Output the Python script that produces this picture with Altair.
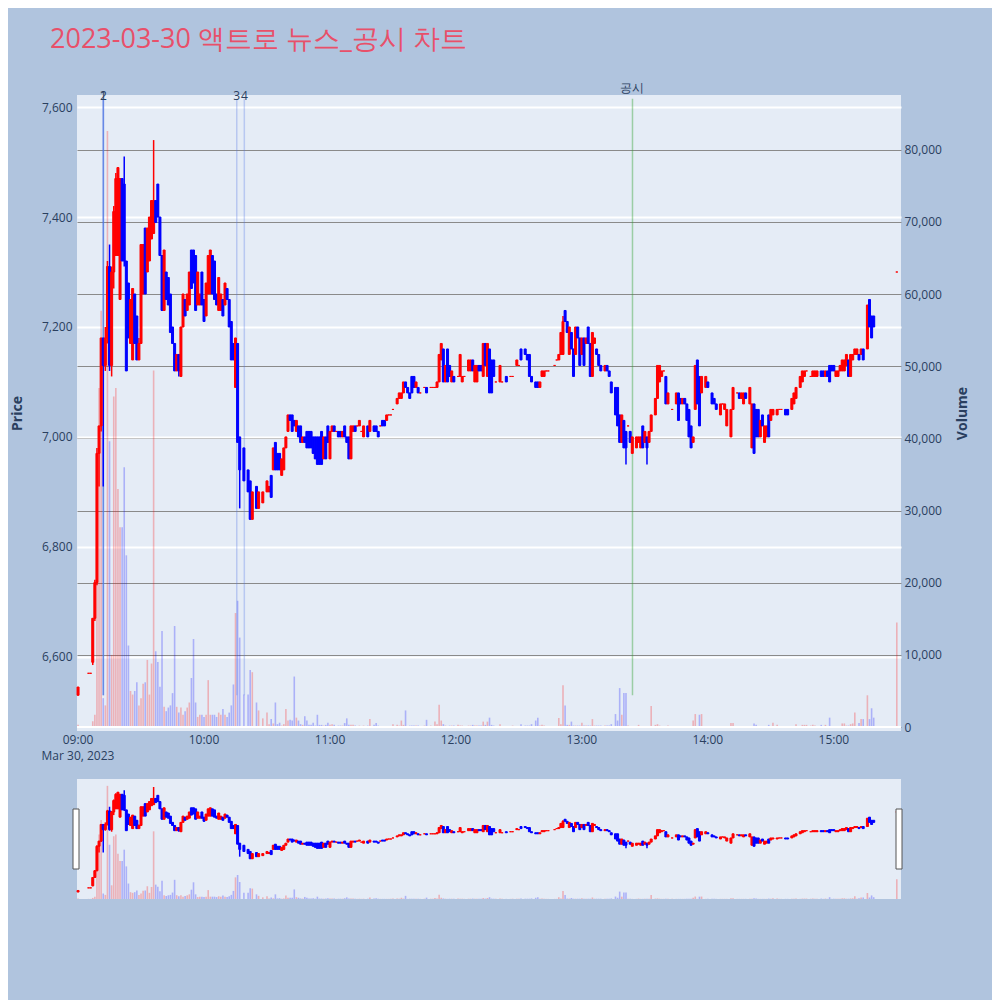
import altair as alt
import pandas as pd

TITLE = "2023-03-30 액트로 뉴스_공시 차트"
DATE_LABEL = "Mar 30, 2023"

# (minute from 09:00, open, high, low, close, volume)
H09 = [
    (0, 6530, 6545, 6530, 6545, 300), (5, 6570, 6570, 6570, 6570, 100), (6, 6570, 6570, 6570, 6570, 100),
    (7, 6590, 6670, 6585, 6670, 800), (8, 6670, 6740, 6665, 6735, 1700), (9, 6735, 6980, 6730, 6970, 22600),
    (10, 6970, 7020, 6910, 7020, 47000), (11, 7020, 7180, 7010, 7180, 57700), (12, 7180, 7180, 6910, 7130, 4000),
    (13, 7130, 7200, 7120, 7180, 3000), (14, 7180, 7320, 7170, 7310, 82600), (15, 7310, 7350, 7120, 7130, 39600),
    (16, 7130, 7310, 7110, 7300, 10000), (17, 7300, 7420, 7270, 7410, 45800), (18, 7330, 7480, 7330, 7470, 47000),
    (19, 7330, 7490, 7330, 7490, 33000), (20, 7250, 7470, 7250, 7470, 27700), (21, 7470, 7470, 7320, 7320, 27700),
    (22, 7460, 7510, 7310, 7320, 36000), (23, 7320, 7320, 7120, 7120, 23800), (24, 7280, 7280, 7180, 7180, 11300),
    (25, 7170, 7250, 7170, 7250, 5000), (26, 7140, 7270, 7140, 7270, 4500), (27, 7260, 7260, 7170, 7170, 5000),
    (28, 7220, 7220, 7140, 7140, 6200), (29, 7140, 7180, 7140, 7170, 3000), (30, 7170, 7350, 7170, 7350, 4000),
    (31, 7260, 7350, 7260, 7350, 6000), (32, 7380, 7380, 7260, 7260, 6200), (33, 7300, 7380, 7300, 7380, 9300),
    (34, 7320, 7400, 7320, 7400, 4500), (35, 7360, 7430, 7360, 7430, 8800), (36, 7370, 7540, 7370, 7430, 49400),
    (37, 7430, 7430, 7390, 7390, 10500), (38, 7460, 7460, 7400, 7400, 9000), (39, 7400, 7400, 7330, 7330, 5600),
    (40, 7330, 7330, 7230, 7230, 13300), (41, 7230, 7340, 7230, 7340, 2800), (42, 7300, 7300, 7250, 7250, 2200),
    (43, 7290, 7290, 7240, 7240, 2700), (44, 7260, 7260, 7190, 7190, 3000), (45, 7200, 7200, 7170, 7170, 4700),
    (46, 7170, 7170, 7120, 7120, 14000), (47, 7120, 7150, 7120, 7150, 2800), (48, 7150, 7150, 7110, 7120, 2000),
    (49, 7110, 7200, 7110, 7200, 2700), (50, 7200, 7260, 7200, 7260, 1700), (51, 7250, 7250, 7220, 7220, 2200),
    (52, 7230, 7260, 7230, 7260, 2700), (53, 7240, 7300, 7240, 7300, 3400), (54, 7340, 7340, 7270, 7270, 6800),
    (55, 7340, 7340, 7280, 7280, 12200), (56, 7330, 7330, 7230, 7230, 3400), (57, 7240, 7300, 7240, 7300, 1400),
    (58, 7240, 7260, 7240, 7260, 1700), (59, 7300, 7300, 7240, 7240, 1700),
]
H10 = [
    (60, 7250, 7250, 7210, 7210, 1400), (61, 7220, 7280, 7220, 7280, 1700), (62, 7260, 7330, 7260, 7330, 6500),
    (63, 7260, 7340, 7260, 7340, 1700), (64, 7330, 7330, 7260, 7260, 1700), (65, 7320, 7320, 7250, 7250, 1700),
    (66, 7260, 7260, 7240, 7240, 1400), (67, 7230, 7290, 7230, 7290, 2000), (68, 7230, 7260, 7230, 7260, 1700),
    (69, 7250, 7250, 7220, 7220, 2500), (70, 7240, 7280, 7240, 7280, 1700), (71, 7270, 7270, 7250, 7250, 1400),
    (72, 7250, 7250, 7200, 7200, 2000), (73, 7210, 7210, 7140, 7140, 3000), (74, 7170, 7170, 7140, 7140, 5900),
    (75, 7090, 7180, 7090, 7180, 15800), (76, 7170, 7170, 6990, 6990, 17500), (77, 7000, 7000, 6870, 6940, 12400),
    (79, 6980, 6980, 6920, 6920, 4500), (81, 6940, 6940, 6900, 6900, 4500), (82, 6920, 6920, 6850, 6850, 7900),
    (83, 6850, 6900, 6850, 6900, 7600), (85, 6910, 6910, 6870, 6870, 3400), (86, 6870, 6900, 6870, 6900, 2300),
    (88, 6880, 6900, 6880, 6900, 1200), (90, 6900, 6920, 6900, 6920, 2000), (91, 6900, 6910, 6900, 6910, 400),
    (92, 6930, 6930, 6890, 6890, 1100), (93, 6940, 6980, 6940, 6980, 500), (94, 6990, 6990, 6940, 6940, 3400),
    (95, 6970, 6970, 6940, 6940, 400), (96, 6970, 6970, 6940, 6940, 600), (97, 6930, 6960, 6930, 6960, 200),
    (98, 6940, 6980, 6940, 6980, 400), (99, 6980, 7000, 6980, 7000, 2500), (100, 7010, 7040, 7010, 7040, 900),
    (101, 7040, 7040, 7030, 7030, 1000), (102, 7040, 7040, 7010, 7010, 900), (103, 7030, 7030, 7020, 7020, 7000),
    (104, 7010, 7030, 7010, 7030, 1300), (105, 7020, 7020, 7000, 7000, 900), (106, 7020, 7020, 6990, 6990, 400),
    (107, 6990, 7000, 6990, 7000, 300), (108, 7000, 7000, 6990, 6990, 1500), (109, 7010, 7010, 6980, 6980, 900),
    (110, 7010, 7010, 6980, 6980, 300), (111, 7010, 7010, 6980, 6980, 300), (112, 7000, 7000, 6970, 6970, 600),
    (113, 7000, 7000, 6960, 6960, 200), (114, 7000, 7000, 6950, 6950, 1700), (115, 7000, 7000, 6950, 6950, 300),
    (116, 7010, 7010, 6950, 6950, 300), (117, 6960, 7000, 6960, 7000, 200), (118, 7000, 7000, 6960, 6960, 300),
    (119, 7020, 7020, 6990, 6990, 600),
]
H11 = [
    (120, 6960, 7010, 6960, 7010, 300), (121, 7010, 7020, 7010, 7020, 400), (122, 7020, 7020, 7010, 7010, 300),
    (123, 7010, 7010, 7010, 7010, 100), (124, 7010, 7010, 7000, 7000, 200), (125, 7010, 7010, 7000, 7000, 200),
    (126, 7000, 7010, 7000, 7010, 200), (127, 7020, 7020, 7000, 7000, 550), (128, 7000, 7000, 6990, 6990, 1200),
    (129, 7000, 7000, 6960, 6960, 300), (130, 6960, 7020, 6960, 7020, 300), (131, 7010, 7020, 7010, 7020, 300),
    (132, 7020, 7020, 7010, 7010, 200), (133, 7020, 7020, 7020, 7020, 100), (134, 7020, 7030, 7020, 7030, 200),
    (135, 7010, 7010, 7010, 7010, 100), (136, 7000, 7020, 7000, 7020, 200), (138, 7020, 7020, 7000, 7000, 200),
    (139, 7010, 7030, 7010, 7030, 1100), (141, 7020, 7020, 7010, 7010, 300), (142, 7020, 7020, 7010, 7010, 550),
    (143, 7010, 7010, 7000, 7000, 200), (144, 7020, 7020, 7020, 7020, 100), (145, 7030, 7030, 7020, 7020, 100),
    (146, 7030, 7030, 7020, 7020, 100), (147, 7030, 7040, 7030, 7040, 100), (148, 7040, 7040, 7040, 7040, 100),
    (149, 7040, 7040, 7040, 7040, 100), (150, 7050, 7050, 7050, 7050, 400), (152, 7060, 7070, 7060, 7070, 300),
    (153, 7070, 7080, 7070, 7080, 200), (154, 7070, 7080, 7070, 7080, 900), (155, 7080, 7100, 7080, 7100, 300),
    (156, 7100, 7100, 7090, 7090, 2300), (157, 7090, 7090, 7080, 7080, 100), (158, 7080, 7080, 7070, 7070, 200),
    (159, 7110, 7110, 7080, 7080, 200), (160, 7110, 7110, 7090, 7090, 200), (161, 7090, 7100, 7090, 7100, 200),
    (162, 7090, 7090, 7080, 7080, 200), (163, 7080, 7080, 7080, 7080, 100), (165, 7090, 7090, 7090, 7090, 200),
    (166, 7090, 7090, 7080, 7080, 1000), (168, 7090, 7090, 7090, 7090, 200), (169, 7090, 7090, 7090, 7090, 100),
    (170, 7090, 7090, 7090, 7090, 750), (171, 7090, 7100, 7090, 7100, 400), (172, 7100, 7150, 7100, 7150, 3100),
    (173, 7140, 7170, 7140, 7170, 900), (174, 7160, 7160, 7100, 7100, 400), (175, 7100, 7130, 7100, 7130, 200),
    (176, 7160, 7160, 7100, 7100, 100), (177, 7130, 7130, 7110, 7110, 200), (178, 7100, 7120, 7100, 7120, 200),
    (179, 7110, 7110, 7100, 7100, 200),
]
H12 = [
    (181, 7110, 7110, 7110, 7110, 300), (182, 7110, 7150, 7110, 7150, 200), (183, 7100, 7110, 7100, 7110, 200),
    (184, 7110, 7110, 7110, 7110, 100), (186, 7120, 7140, 7120, 7140, 200), (187, 7120, 7140, 7120, 7140, 200),
    (188, 7140, 7140, 7120, 7120, 300), (189, 7100, 7130, 7100, 7130, 200), (190, 7100, 7130, 7100, 7130, 200),
    (191, 7130, 7130, 7120, 7120, 200), (192, 7130, 7130, 7120, 7120, 200), (193, 7110, 7170, 7110, 7170, 750),
    (194, 7170, 7170, 7130, 7130, 300), (195, 7110, 7170, 7110, 7170, 750), (196, 7160, 7160, 7080, 7080, 1300),
    (197, 7140, 7140, 7080, 7080, 300), (198, 7140, 7140, 7110, 7110, 200), (199, 7100, 7100, 7100, 7100, 100),
    (201, 7100, 7130, 7100, 7130, 400), (202, 7100, 7100, 7100, 7100, 100), (204, 7110, 7110, 7100, 7100, 100),
    (206, 7110, 7110, 7110, 7110, 100), (207, 7110, 7110, 7110, 7110, 200), (209, 7130, 7140, 7130, 7140, 100),
    (210, 7130, 7130, 7130, 7130, 100), (211, 7160, 7160, 7140, 7140, 400), (213, 7160, 7160, 7150, 7150, 200),
    (214, 7150, 7150, 7140, 7140, 200), (215, 7150, 7150, 7110, 7110, 200), (216, 7110, 7110, 7100, 7100, 400),
    (218, 7100, 7100, 7090, 7090, 900), (219, 7100, 7100, 7090, 7090, 1300), (220, 7090, 7100, 7090, 7100, 200),
    (221, 7110, 7120, 7110, 7120, 300), (222, 7110, 7120, 7110, 7120, 200), (223, 7120, 7120, 7120, 7120, 100),
    (224, 7120, 7120, 7120, 7120, 100), (227, 7130, 7130, 7130, 7130, 100), (228, 7140, 7140, 7140, 7140, 100),
    (229, 7140, 7150, 7140, 7150, 1250), (230, 7150, 7190, 7150, 7190, 400), (231, 7150, 7220, 7150, 7210, 5800),
    (232, 7230, 7230, 7210, 7210, 3000), (233, 7210, 7210, 7190, 7190, 300), (234, 7150, 7200, 7150, 7200, 300),
    (235, 7190, 7190, 7160, 7160, 750), (236, 7160, 7160, 7110, 7110, 200), (237, 7150, 7200, 7150, 7200, 200),
    (238, 7200, 7200, 7180, 7180, 200), (239, 7180, 7180, 7130, 7130, 200),
]
H13 = [
    (240, 7150, 7180, 7150, 7180, 600), (241, 7180, 7180, 7130, 7130, 200), (242, 7170, 7180, 7170, 7180, 200),
    (243, 7200, 7200, 7170, 7170, 200), (244, 7170, 7170, 7110, 7110, 200), (245, 7110, 7190, 7110, 7190, 1100),
    (246, 7170, 7180, 7170, 7180, 200), (247, 7160, 7160, 7150, 7150, 200), (248, 7150, 7150, 7130, 7130, 200),
    (249, 7130, 7130, 7120, 7120, 200), (251, 7120, 7130, 7120, 7130, 200), (252, 7130, 7130, 7120, 7120, 200),
    (253, 7120, 7120, 7110, 7110, 200), (254, 7100, 7100, 7080, 7080, 400), (256, 7090, 7090, 7040, 7040, 1800),
    (257, 7090, 7090, 7020, 7020, 900), (258, 7040, 7040, 6990, 6990, 5400), (259, 6990, 7040, 6990, 7040, 1700),
    (260, 7030, 7030, 6980, 6980, 4700), (261, 7010, 7010, 6950, 6980, 4700), (262, 7020, 7020, 7020, 7020, 200),
    (263, 7010, 7010, 6990, 6990, 100), (264, 6970, 7000, 6970, 7000, 100), (266, 6980, 7000, 6980, 7000, 100),
    (267, 6990, 7000, 6990, 7000, 300), (268, 6980, 7000, 6980, 7000, 100), (269, 7020, 7020, 6980, 6980, 100),
    (270, 6990, 7010, 6990, 7010, 100), (271, 7000, 7000, 6950, 6980, 100), (272, 6990, 7010, 6990, 7010, 100),
    (273, 7010, 7040, 7010, 7040, 2900), (275, 7040, 7070, 7040, 7070, 300), (276, 7070, 7130, 7070, 7130, 400),
    (277, 7100, 7130, 7100, 7130, 200), (278, 7110, 7120, 7110, 7120, 100), (279, 7120, 7120, 7120, 7120, 100),
    (280, 7110, 7110, 7060, 7060, 100), (281, 7060, 7080, 7060, 7080, 200), (283, 7050, 7050, 7050, 7050, 100),
    (285, 7060, 7080, 7060, 7080, 100), (286, 7080, 7080, 7030, 7030, 100), (287, 7070, 7070, 7060, 7060, 100),
    (288, 7060, 7070, 7060, 7070, 100), (289, 7070, 7070, 7060, 7060, 100), (290, 7060, 7060, 7030, 7030, 100),
    (291, 7050, 7050, 7000, 7000, 100), (292, 7020, 7020, 6980, 6980, 100), (293, 6990, 7000, 6990, 7000, 900),
    (294, 7050, 7130, 7050, 7130, 1800), (295, 7140, 7140, 7060, 7060, 100), (296, 7110, 7110, 7020, 7020, 1700),
    (297, 7080, 7110, 7080, 7110, 1800), (299, 7090, 7110, 7090, 7110, 100),
]
H14 = [
    (300, 7100, 7100, 7090, 7090, 100), (302, 7080, 7080, 7060, 7060, 100), (303, 7070, 7070, 7060, 7060, 100),
    (304, 7060, 7060, 7050, 7050, 100), (306, 7040, 7060, 7040, 7060, 100), (307, 7060, 7060, 7060, 7060, 100),
    (308, 7050, 7060, 7050, 7060, 100), (309, 7020, 7050, 7020, 7050, 100), (311, 7000, 7050, 7000, 7050, 550),
    (312, 7050, 7090, 7050, 7090, 550), (314, 7080, 7080, 7080, 7080, 100), (315, 7080, 7080, 7070, 7070, 100),
    (316, 7070, 7080, 7070, 7080, 100), (317, 7060, 7080, 7060, 7080, 100), (318, 7080, 7080, 7070, 7070, 100),
    (320, 7060, 7090, 7060, 7090, 100), (321, 6980, 7060, 6980, 7060, 100), (322, 7060, 7060, 6970, 6970, 500),
    (323, 7050, 7050, 7000, 7000, 300), (324, 7050, 7050, 7000, 7000, 100), (325, 7000, 7030, 7000, 7030, 100),
    (326, 7040, 7040, 7020, 7020, 100), (327, 6990, 7020, 6990, 7020, 100), (328, 7000, 7020, 7000, 7020, 100),
    (329, 7040, 7040, 7000, 7000, 300), (330, 7030, 7050, 7030, 7050, 100), (331, 7040, 7050, 7040, 7050, 600),
    (333, 7040, 7050, 7040, 7050, 300), (334, 7050, 7050, 7050, 7050, 100), (335, 7050, 7050, 7050, 7050, 100),
    (337, 7050, 7050, 7040, 7040, 100), (338, 7050, 7050, 7040, 7040, 100), (340, 7050, 7070, 7050, 7070, 100),
    (341, 7060, 7080, 7060, 7080, 100), (342, 7070, 7090, 7070, 7090, 400), (344, 7090, 7110, 7090, 7110, 100),
    (345, 7100, 7120, 7100, 7120, 300), (346, 7110, 7120, 7110, 7120, 300), (347, 7120, 7120, 7120, 7120, 300),
    (349, 7110, 7110, 7110, 7110, 200), (350, 7110, 7120, 7110, 7120, 300), (351, 7110, 7120, 7110, 7120, 200),
    (352, 7110, 7120, 7110, 7120, 100), (354, 7120, 7120, 7110, 7110, 300), (355, 7120, 7120, 7110, 7110, 100),
    (356, 7110, 7120, 7110, 7120, 300), (357, 7120, 7120, 7110, 7110, 100), (358, 7130, 7130, 7100, 7100, 1300),
    (359, 7130, 7130, 7120, 7120, 100),
]
H15 = [
    (360, 7130, 7130, 7120, 7120, 100), (361, 7110, 7120, 7110, 7120, 100), (362, 7110, 7120, 7110, 7120, 100),
    (363, 7120, 7130, 7120, 7130, 100), (364, 7120, 7140, 7120, 7140, 500), (365, 7120, 7140, 7120, 7140, 500),
    (366, 7130, 7150, 7130, 7150, 200), (367, 7140, 7140, 7110, 7110, 200), (368, 7110, 7150, 7110, 7150, 400),
    (369, 7140, 7150, 7140, 7150, 500), (370, 7150, 7160, 7150, 7160, 2000), (371, 7150, 7160, 7150, 7160, 100),
    (372, 7150, 7150, 7140, 7140, 550), (373, 7150, 7160, 7150, 7160, 1100), (374, 7160, 7160, 7140, 7140, 1100),
    (376, 7160, 7240, 7160, 7240, 4400), (377, 7250, 7250, 7200, 7200, 1100), (378, 7220, 7220, 7180, 7180, 2600),
    (379, 7220, 7220, 7200, 7200, 1300), (390, 7300, 7300, 7300, 7300, 14500),
]

EVENT_MIN = [12.0, 12.1, 75.6, 79.2, 264.1]
EVENT_LABEL = ["1", "2", "3", "4", "공시"]
EVENT_KIND = ["news1", "news1", "news2", "news2", "disc"]

X_TICKS = [0, 60, 120, 180, 240, 300, 360]
X_LABELS = ["09:00", "10:00", "11:00", "12:00", "13:00", "14:00", "15:00"]
PRICE_TICKS = [6600, 6800, 7000, 7200, 7400, 7600]
VOL_TICKS = [0, 10000, 20000, 30000, 40000, 50000, 60000, 70000, 80000]

df = pd.DataFrame(H09 + H10 + H11 + H12 + H13 + H14 + H15, columns=["m", "o", "h", "l", "c", "v"])
df["dir"] = ["up" if c >= o else "down" for o, c in zip(df["o"], df["c"])]
ev = pd.DataFrame({"m": EVENT_MIN, "label": EVENT_LABEL, "kind": EVENT_KIND})
xt = pd.DataFrame({"m": X_TICKS, "label": X_LABELS})

W, H, HS = 824, 636, 120
PDOM = [6465, 7622]
VDOM = [-550, 87600]
xs = alt.Scale(domain=[-0.5, 392], nice=False, zero=False, padding=0)
cs = alt.Scale(domain=["up", "down"], range=["#ff0000", "#0000ff"])
TXT = "#2a3f5f"


def pscale():
    return alt.Scale(domain=PDOM, nice=False, zero=False, padding=0)


price_axis = alt.Axis(
    orient="left", values=PRICE_TICKS, format=",.0f", grid=True, gridColor="white", gridWidth=2,
    ticks=False, domain=False, labelPadding=5, title="Price", titlePadding=17,
)
vol_axis = alt.Axis(
    orient="right", values=VOL_TICKS, format=",.0f", grid=True, gridColor="#8a8a8a", gridWidth=1,
    ticks=False, domain=False, labelPadding=3, title="Volume", titleAngle=270, titlePadding=28,
)

base = alt.Chart(df)
X_NOAX = alt.X("m:Q", scale=xs, axis=None)

vol_bars = base.mark_bar(width=1.6, opacity=0.25).encode(
    x=X_NOAX,
    y=alt.Y("v:Q", scale=alt.Scale(domain=VDOM, nice=False, zero=False, padding=0), axis=vol_axis),
    y2=alt.datum(0),
    color=alt.Color("dir:N", scale=cs, legend=None),
)
zero_line = alt.Chart(pd.DataFrame({"z": [0]})).mark_rule(color="white", strokeWidth=2).encode(
    y=alt.Y("z:Q", scale=alt.Scale(domain=VDOM, nice=False, zero=False, padding=0), axis=None)
)


def event_rule(kind, color, opacity):
    return alt.Chart(ev[ev["kind"] == kind]).mark_rule(color=color, strokeWidth=1.5, opacity=opacity).encode(
        x=X_NOAX,
        y=alt.Y(datum=6530, scale=pscale(), axis=None),
        y2=alt.Y2(datum=7615),
    )


wick = base.mark_rule(strokeWidth=1.5).encode(
    x=X_NOAX,
    y=alt.Y("l:Q", scale=pscale(), axis=price_axis),
    y2="h:Q",
    color=alt.Color("dir:N", scale=cs, legend=None),
)
body = base.mark_bar(width=2, strokeWidth=1).encode(
    x=X_NOAX,
    y=alt.Y("o:Q", scale=pscale(), axis=None),
    y2="c:Q",
    fill=alt.Fill("dir:N", scale=cs, legend=None),
    stroke=alt.Stroke("dir:N", scale=cs, legend=None),
)
ev_num = alt.Chart(ev[ev["kind"] != "disc"]).mark_text(fontSize=12, color=TXT, baseline="middle").encode(
    x=X_NOAX, y=alt.value(1), text="label:N"
)
ev_disc = alt.Chart(ev[ev["kind"] == "disc"]).mark_text(fontSize=12, color=TXT, baseline="middle").encode(
    x=X_NOAX, y=alt.value(-7), text="label:N"
)
x_labels = alt.Chart(xt).mark_text(fontSize=12, color=TXT, baseline="middle").encode(
    x=X_NOAX, y=alt.value(H + 9), text="label:N"
)
title_txt = alt.Chart(pd.DataFrame({"t": [TITLE]})).mark_text(
    align="left", baseline="alphabetic", fontSize=27, color="#e8506a"
).encode(x=alt.value(-27), y=alt.value(-47), text="t:N")
date_txt = alt.Chart(pd.DataFrame({"t": [DATE_LABEL]})).mark_text(
    align="center", baseline="middle", fontSize=12, color=TXT
).encode(x=alt.value(1), y=alt.value(H + 25), text="t:N")

main = alt.layer(
    vol_bars, zero_line,
    event_rule("news1", "#4f74e3", 0.6),
    event_rule("news2", "#4f74e3", 0.3),
    event_rule("disc", "#2ca02c", 0.4),
    wick, body, ev_num, ev_disc, x_labels, title_txt, date_txt,
).resolve_scale(y="independent").properties(width=W, height=H)

# range slider
sl_vol = base.mark_bar(width=1.6, opacity=0.25).encode(
    x=X_NOAX,
    y=alt.Y("v:Q", scale=alt.Scale(domain=[0, 87600], nice=False, zero=False, padding=0), axis=None),
    y2=alt.datum(0),
    color=alt.Color("dir:N", scale=cs, legend=None),
)
SL_PDOM = [6463, 7617]
sl_wick = base.mark_rule(strokeWidth=1.5).encode(
    x=X_NOAX,
    y=alt.Y("l:Q", scale=alt.Scale(domain=SL_PDOM, nice=False, zero=False, padding=0), axis=None),
    y2="h:Q",
    color=alt.Color("dir:N", scale=cs, legend=None),
)
sl_body = base.mark_bar(width=2, strokeWidth=1).encode(
    x=X_NOAX,
    y=alt.Y("o:Q", scale=alt.Scale(domain=SL_PDOM, nice=False, zero=False, padding=0), axis=None),
    y2="c:Q",
    fill=alt.Fill("dir:N", scale=cs, legend=None),
    stroke=alt.Stroke("dir:N", scale=cs, legend=None),
)
hdl = pd.DataFrame({"k": [0]})
handle_l = alt.Chart(hdl).mark_rect(fill="white", stroke="#555", strokeWidth=1).encode(
    x=alt.value(-4), x2=alt.value(2), y=alt.value(30), y2=alt.value(90)
)
handle_r = alt.Chart(hdl).mark_rect(fill="white", stroke="#555", strokeWidth=1).encode(
    x=alt.value(W - 5), x2=alt.value(W + 1), y=alt.value(30), y2=alt.value(90)
)
slider = alt.layer(
    sl_vol, sl_wick, sl_body, handle_l, handle_r
).resolve_scale(y="independent").properties(width=W, height=HS)

chart = alt.vconcat(main, slider, spacing=48, bounds="flush").properties(
    padding={"left": 2, "top": 18, "right": 22, "bottom": 101}
).configure(
    background="#b0c4de", font="Open Sans"
).configure_view(
    fill="#e5ecf6", stroke=None
).configure_axis(
    labelColor=TXT, labelFontSize=12, titleColor=TXT, titleFontSize=14,
    titleFontWeight="bold", labelFont="Open Sans", titleFont="Open Sans",
)

chart.save("out.html", embed_options={"renderer": "svg", "actions": False})
